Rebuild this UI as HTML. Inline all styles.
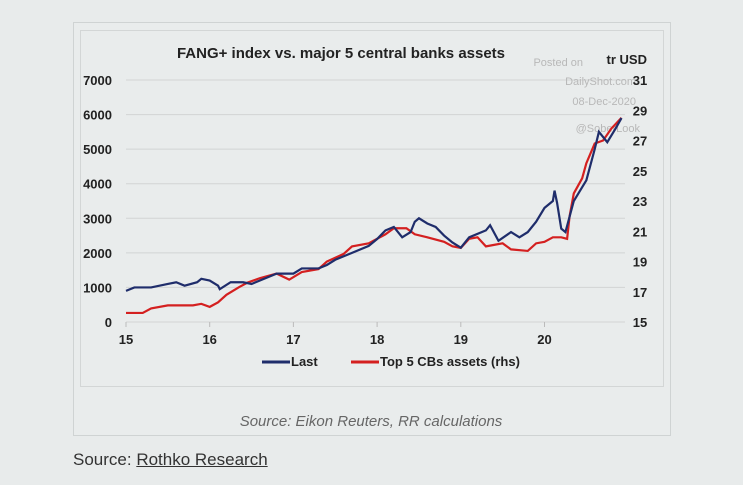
<!DOCTYPE html>
<html><head><meta charset="utf-8"><style>
body{margin:0;width:743px;height:485px;background:#e8ebeb;font-family:"Liberation Sans",sans-serif;overflow:hidden;position:relative}
</style></head><body>
<div style="position:absolute;left:73px;top:22px;width:596px;height:412px;border:1px solid #cfd3d3;background:#e9ecec"></div>
<div style="position:absolute;left:80px;top:30px;width:582px;height:355px;border:1px solid #d3d6d6"></div>
<svg width="743" height="485" style="position:absolute;left:0;top:0" font-family="Liberation Sans, sans-serif">
<g id="grid"></g>
<text x="341" y="58" text-anchor="middle" font-size="15" font-weight="bold" fill="#222">FANG+ index vs. major 5 central banks assets</text>
<text x="647" y="64" text-anchor="end" font-size="13" font-weight="bold" fill="#222">tr USD</text>
<g font-size="11" fill="#b8b8b8" text-anchor="end">
<text x="583" y="66">Posted on</text><text x="636" y="85">DailyShot.com</text><text x="636" y="105">08-Dec-2020</text><text x="640" y="132">@SoberLook</text></g>
<g id="axes"></g>
<g id="series"></g>
<g font-size="13" font-weight="bold" fill="#222">
<line x1="262" y1="362" x2="290" y2="362" stroke="#1f2d6b" stroke-width="3"/><text x="291" y="366">Last</text>
<line x1="351" y1="362" x2="379" y2="362" stroke="#d42020" stroke-width="3"/><text x="380" y="366">Top 5 CBs assets (rhs)</text></g>
<text x="371" y="426" text-anchor="middle" font-size="15" font-style="italic" fill="#666">Source: Eikon Reuters, RR calculations</text>
</svg>
<div style="position:absolute;left:73px;top:450px;font-size:17px;color:#333">Source: <a style="color:#333;text-decoration:underline">Rothko Research</a></div>
<script>
const leftTicks=[0,1000,2000,3000,4000,5000,6000,7000];
const rightTicks=[15,17,19,21,23,25,27,29,31];
const yearTicks=[15,16,17,18,19,20];
const lastT=[15.0,15.1,15.3,15.5,15.6,15.7,15.85,15.9,16.0,16.1,16.12,16.25,16.4,16.5,16.6,16.8,17.0,17.1,17.3,17.4,17.5,17.7,17.9,18.0,18.1,18.2,18.3,18.4,18.45,18.5,18.6,18.7,18.8,18.9,19.0,19.1,19.3,19.35,19.45,19.6,19.7,19.8,19.9,20.0,20.1,20.12,20.15,20.2,20.25,20.35,20.45,20.5,20.6,20.65,20.75,20.85,20.92];
const lastV=[900,1000,1000,1100,1150,1050,1150,1250,1200,1050,950,1150,1150,1100,1200,1400,1400,1550,1550,1650,1800,2000,2200,2400,2650,2750,2450,2600,2900,3000,2850,2750,2500,2300,2150,2450,2650,2800,2350,2600,2450,2600,2900,3300,3500,3800,3450,2700,2600,3500,3900,4100,5000,5500,5200,5600,5900];
const cbT=[15.0,15.2,15.3,15.5,15.8,15.9,16.0,16.1,16.2,16.35,16.45,16.6,16.8,16.95,17.1,17.3,17.4,17.6,17.7,17.9,18.1,18.2,18.35,18.45,18.6,18.8,18.9,19.0,19.1,19.2,19.3,19.5,19.6,19.8,19.9,20.0,20.1,20.2,20.27,20.3,20.35,20.45,20.5,20.6,20.7,20.8,20.92];
const cbV=[15.6,15.6,15.9,16.1,16.1,16.2,16.0,16.3,16.8,17.3,17.6,17.9,18.2,17.8,18.3,18.5,19.0,19.5,20.0,20.2,20.8,21.2,21.2,20.8,20.6,20.3,20.0,19.9,20.5,20.6,20.0,20.2,19.8,19.7,20.2,20.3,20.6,20.6,20.5,22.0,23.5,24.5,25.5,26.8,27.0,27.8,28.5];
const NS='http://www.w3.org/2000/svg';
const X=t=>126+(t-15)*83.7, YL=v=>322-v/7000*242, YR=v=>322-(v-15)/16*242;
function mk(tag,at,parent){const e=document.createElementNS(NS,tag);for(const k in at)e.setAttribute(k,at[k]);document.getElementById(parent).appendChild(e);return e;}
leftTicks.forEach(v=>{const l=mk('line',{x1:126,x2:625,y1:YL(v),y2:YL(v),stroke:'#d2d4d4','stroke-width':1},'grid');


const t=mk('text',{x:112,y:YL(v)+5,'text-anchor':'end','font-size':13,'font-weight':'bold',fill:'#222'},'axes');t.textContent=v;

});
rightTicks.forEach(v=>{const t=mk('text',{x:640,y:YR(v)+5,'text-anchor':'middle','font-size':13,'font-weight':'bold',fill:'#222'},'axes');t.textContent=v;

});
yearTicks.forEach(v=>{const t=mk('text',{x:X(v),y:344,'text-anchor':'middle','font-size':13,'font-weight':'bold',fill:'#222'},'axes');t.textContent=v;


const k=mk('line',{x1:X(v),x2:X(v),y1:322,y2:327,stroke:'#bbb'},'axes');

});
const p1=mk('polyline',{points:cbT.map((t,i)=>X(t)+','+YR(cbV[i])).join(' '),fill:'none',stroke:'#d42020','stroke-width':2.2},'series');


const p2=mk('polyline',{points:lastT.map((t,i)=>X(t)+','+YL(lastV[i])).join(' '),fill:'none',stroke:'#1f2d6b','stroke-width':2.2},'series');


</script>
</body></html>
